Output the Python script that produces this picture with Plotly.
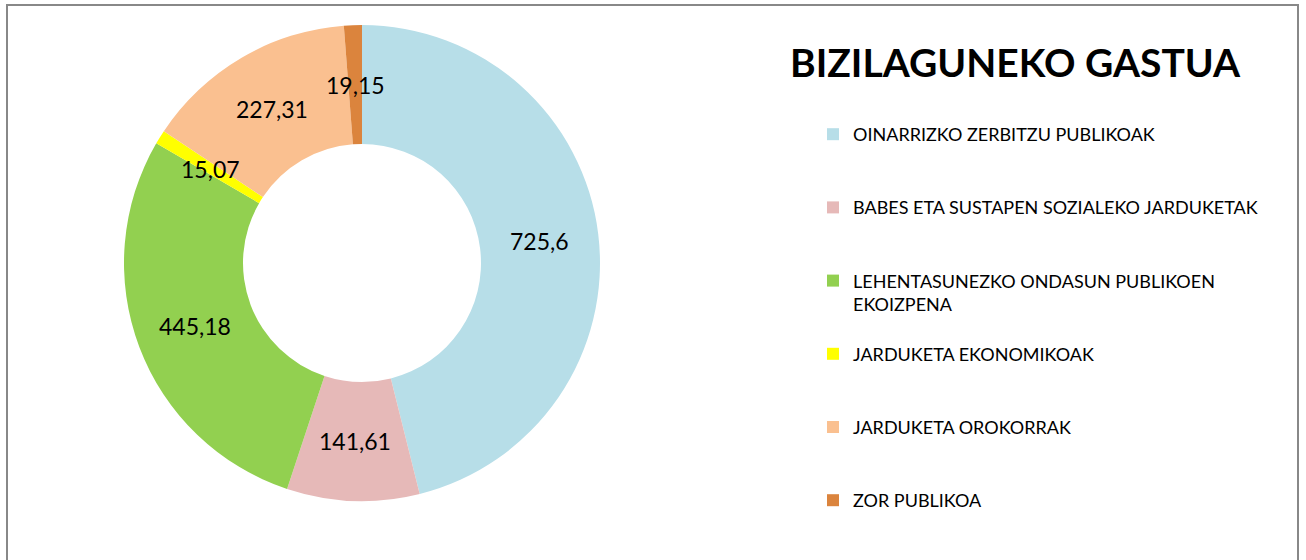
import math
import plotly.graph_objects as go

# ---- data ----
categories = [
    "OINARRIZKO ZERBITZU PUBLIKOAK",
    "BABES ETA SUSTAPEN SOZIALEKO JARDUKETAK",
    "LEHENTASUNEZKO ONDASUN PUBLIKOEN<br>EKOIZPENA",
    "JARDUKETA EKONOMIKOAK",
    "JARDUKETA OROKORRAK",
    "ZOR PUBLIKOA",
]
values = [725.6, 141.61, 445.18, 15.07, 227.31, 19.15]
colors = ["#B7DEE8", "#E6B9B8", "#92D050", "#FFFF00", "#FAC090", "#DB843D"]
title_text = "BIZILAGUNEKO GASTUA"

# ---- layout geometry (pixels) ----
W, H = 1306, 560
CX, CY, R = 362, 263, 238
HOLE = 0.5
FONT = "Lato, 'Open Sans', sans-serif"

# pad legend labels so every entry (except the last) takes three lines
legend_labels = []
for i, c in enumerate(categories):
    n = c.count("<br>") + 1
    pad = 0 if i == len(categories) - 1 else 3 - n
    legend_labels.append(c + "<br> " * pad)

dom_x = [(CX - R) / W, (CX + R) / W]
dom_y = [1 - (CY + R) / H, 1 - (CY - R) / H]

fig = go.Figure(go.Pie(
    labels=legend_labels,
    values=values,
    marker=dict(colors=colors, line=dict(width=0)),
    hole=HOLE,
    sort=False,
    direction="clockwise",
    rotation=0,
    textinfo="none",
    domain=dict(x=dom_x, y=dom_y),
    hoverinfo="label+value",
))

# data labels at mid-ring radius on each slice bisector (derived from values)
total = sum(values)
cum = 0.0
r_mid = R * (1 + HOLE) / 2
annotations = []
for v in values:
    ang = (cum + v / 2) / total * 2 * math.pi
    cum += v
    px = CX + r_mid * math.sin(ang)
    py = CY - r_mid * math.cos(ang)
    label = f"{v:g}".replace(".", ",")
    annotations.append(dict(
        x=px / W, y=1 - py / H, xref="paper", yref="paper",
        text=label, showarrow=False,
        font=dict(family=FONT, size=23, color="#000000"),
        xanchor="center", yanchor="middle",
    ))

annotations.append(dict(
    x=1015 / W, y=1 - 62 / H, xref="paper", yref="paper",
    text=f"<b>{title_text}</b>", showarrow=False,
    font=dict(family=FONT, size=39, color="#000000"),
    xanchor="center", yanchor="middle",
))

fig.update_layout(
    width=W, height=H,
    margin=dict(l=0, r=0, t=0, b=0, autoexpand=False),
    paper_bgcolor="white",
    plot_bgcolor="white",
    showlegend=True,
    legend=dict(
        x=813 / W, y=1 - 116 / H, xanchor="left", yanchor="top",
        font=dict(family=FONT, size=18, color="#000000"),
        valign="top",
        bgcolor="rgba(0,0,0,0)",
        tracegroupgap=0,
    ),
    annotations=annotations,
    shapes=[dict(
        type="rect", xref="paper", yref="paper",
        x0=7 / W, x1=1298 / W, y0=-0.05, y1=1 - 5 / H,
        line=dict(color="#888888", width=2),
        fillcolor="rgba(0,0,0,0)",
    )],
)

fig.write_html(
    "out.html",
    config={"displayModeBar": False},
    post_script="document.body.style.margin='0';document.body.style.overflow='hidden';",
)
